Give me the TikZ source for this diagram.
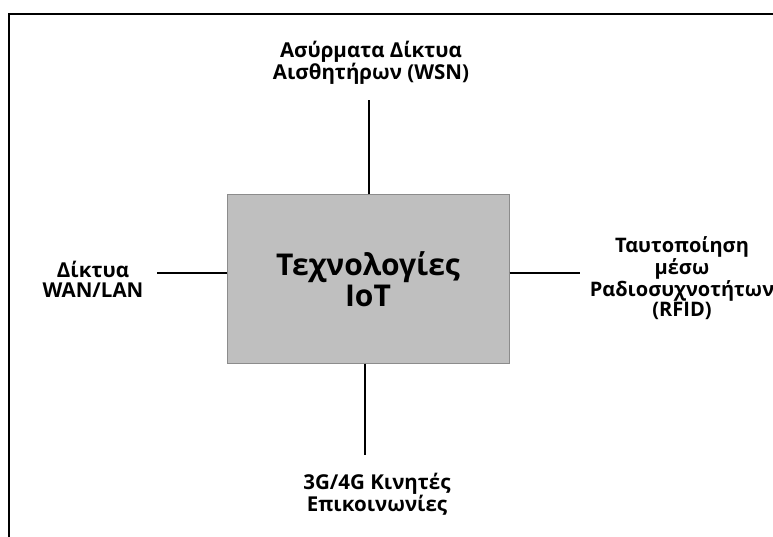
\documentclass[tikz,border=0pt]{standalone}
\usepackage{fontspec}
\setmainfont{Open Sans}
\begin{document}
\begin{tikzpicture}[x=1pt,y=-1pt,
  lbl/.style={align=center,inner sep=0pt,font=\bfseries\fontsize{20.5}{20}\selectfont},
  conn/.style={line width=1.6pt,black},
  core/.style={draw=black!45,line width=1pt,fill=black!25,minimum width=282pt,minimum height=168pt,inner sep=0pt,align=center,font=\bfseries\fontsize{30}{31}\selectfont}]
\useasboundingbox (0,0) rectangle (773,537);
\draw[line width=1.8pt] (9,537) -- (9,14) -- (780,14);
\node[core] (iot) at (368,279) {Τεχνολογίες\\IoT};
\node[lbl] (wsn) at (371,63) {Ασύρματα Δίκτυα\\Αισθητήρων (WSN)};
\node[lbl] (wan) at (93,279) {Δίκτυα\\WAN/LAN};
\node[lbl] (mob) at (377,494) {3G/4G Κινητές\\Επικοινωνίες};
\node[lbl,font=\bfseries\fontsize{20}{17}\selectfont] (rfid) at (682,278) {Ταυτοποίηση\\μέσω\\Ραδιοσυχνοτήτων\\(RFID)};
\coordinate (wsnEnd) at (369,100);
\coordinate (wanEnd) at (157,273);
\coordinate (mobEnd) at (365,455);
\coordinate (rfidEnd) at (580,273);
\draw[conn] (iot.north -| wsnEnd) -- (wsnEnd);
\draw[conn] (iot.west |- wanEnd) -- (wanEnd);
\draw[conn] (iot.south -| mobEnd) -- (mobEnd);
\draw[conn] (iot.east |- rfidEnd) -- (rfidEnd);
\end{tikzpicture}
\end{document}
